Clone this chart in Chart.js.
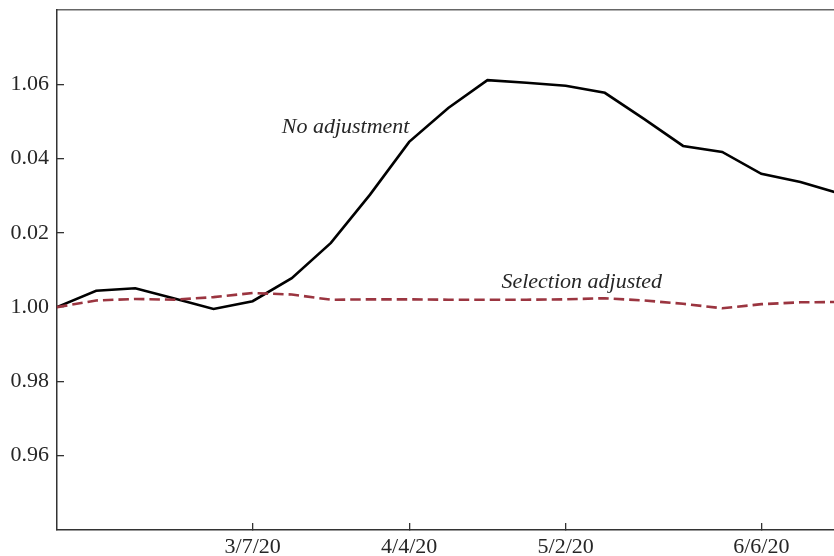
<!DOCTYPE html>
<html>
<head>
<meta charset="utf-8">
<title>Selection adjusted vs no adjustment</title>
<script src="https://cdn.jsdelivr.net/npm/chart.js@4.4.1/dist/chart.umd.min.js"></script>
<style>
    html, body { margin: 0; padding: 0; background: #ffffff; }
    #indiceChart { display: block; }
</style>
</head>
<body>
<canvas id="indiceChart" width="834" height="556"></canvas>
<script>
// ========== DATOS ==========

// Semanas (fecha de cada observación)
const semanas = ['2/1/20', '2/8/20', '2/15/20', '2/22/20', '2/29/20', '3/7/20', '3/14/20',
    '3/21/20', '3/28/20', '4/4/20', '4/11/20', '4/18/20', '4/25/20', '5/2/20', '5/9/20',
    '5/16/20', '5/23/20', '5/30/20', '6/6/20', '6/13/20', '6/20/20'];

// Serie sin ajuste
const sinAjuste = [1.000, 1.0044, 1.0051, 1.0023, 0.9995, 1.0016, 1.0078, 1.0173, 1.0303,
    1.0445, 1.0536, 1.0611, 1.0604, 1.0596, 1.0577, 1.0507, 1.0434, 1.0418, 1.0359,
    1.0337, 1.0306];

// Serie ajustada por selección
const ajustadaSeleccion = [1.000, 1.0018, 1.0022, 1.0020, 1.0027, 1.0038, 1.0034, 1.0020,
    1.0021, 1.0021, 1.0020, 1.0020, 1.0020, 1.0021, 1.0024, 1.0018, 1.0009, 0.9997,
    1.0008, 1.0013, 1.0014];

// Etiquetas de los ejes
const fechasEjeX = ['3/7/20', '4/4/20', '5/2/20', '6/6/20'];
const valoresEjeY = [0.96, 0.98, 1.00, 1.02, 1.04, 1.06];
const etiquetasEjeY = ['0.96', '0.98', '1.00', '0.02', '0.04', '1.06'];

// Fin del eje X (en fecha) y rango del eje Y
const fechaInicio = '2/1/20';
const fechaFin = '6/19/20';
const minY = 0.94;
const maxY = 1.08;

// ========== FUNCIONES AUXILIARES ==========

// Días transcurridos desde la fecha de inicio
function diasDesdeInicio(fecha) {
    const [m, d, a] = fecha.split('/').map(Number);
    const [m0, d0, a0] = fechaInicio.split('/').map(Number);
    return (Date.UTC(2000 + a, m - 1, d) - Date.UTC(2000 + a0, m0 - 1, d0)) / 86400000;
}

const fuente = "'Liberation Serif', 'DejaVu Serif', serif";
const colorTexto = '#262626';

// Etiquetas dentro del gráfico, en coordenadas de datos
const rotulos = [
    { texto: 'No adjustment', x: 40.2, y: 1.0468 },
    { texto: 'Selection adjusted', x: 79.5, y: 1.0051 }
];

const rotulosPlugin = {
    id: 'rotulos',
    afterDatasetsDraw(chart) {
        const { ctx, scales } = chart;
        ctx.save();
        ctx.font = 'italic 22px ' + fuente;
        ctx.fillStyle = colorTexto;
        ctx.textAlign = 'left';
        ctx.textBaseline = 'alphabetic';
        rotulos.forEach(r => {
            ctx.fillText(r.texto, scales.x.getPixelForValue(r.x), scales.y.getPixelForValue(r.y));
        });
        ctx.restore();
    }
};

// Quita el relleno que Chart.js reserva para las etiquetas de los extremos
function sinRelleno(scale) {
    scale.paddingTop = 0;
    scale.paddingBottom = 0;
    scale.paddingLeft = 0;
    scale.paddingRight = 0;
}

// ========== GRÁFICO ==========

const ctx = document.getElementById('indiceChart').getContext('2d');

const indiceChart = new Chart(ctx, {
    type: 'line',
    data: {
        datasets: [{
            label: 'Selection adjusted',
            data: semanas.map((s, i) => ({ x: diasDesdeInicio(s), y: ajustadaSeleccion[i] })),
            borderColor: '#9b3540',
            borderWidth: 2.6,
            borderDash: [10.5, 5],
            pointRadius: 0,
            tension: 0,
            fill: false
        }, {
            label: 'No adjustment',
            data: semanas.map((s, i) => ({ x: diasDesdeInicio(s), y: sinAjuste[i] })),
            borderColor: '#000000',
            borderWidth: 2.6,
            pointRadius: 0,
            tension: 0,
            fill: false
        }]
    },
    options: {
        responsive: false,
        animation: false,
        layout: { padding: 0 },
        plugins: {
            legend: { display: false },
            tooltip: { enabled: false }
        },
        scales: {
            x: {
                type: 'linear',
                position: 'bottom',
                min: 0,
                max: diasDesdeInicio(fechaFin),
                afterBuildTicks: scale => {
                    scale.ticks = fechasEjeX.map(f => ({ value: diasDesdeInicio(f) }));
                },
                afterFit: scale => { scale.height = 26; sinRelleno(scale); },
                ticks: {
                    padding: 11,
                    maxRotation: 0,
                    autoSkip: false,
                    color: colorTexto,
                    font: { family: fuente, size: 22 },
                    callback: (v) => fechasEjeX[fechasEjeX.map(diasDesdeInicio).indexOf(v)] || ''
                },
                grid: {
                    drawOnChartArea: false,
                    drawTicks: true,
                    tickLength: -7,
                    color: '#333333',
                    lineWidth: 1.3
                },
                border: { display: true, color: '#333333', width: 1.5 }
            },
            xTop: {
                type: 'linear',
                position: 'top',
                min: 0,
                max: diasDesdeInicio(fechaFin),
                afterFit: scale => { scale.height = 10; sinRelleno(scale); },
                ticks: { display: false },
                grid: { display: false },
                border: { display: true, color: '#666666', width: 1.5 }
            },
            y: {
                min: minY,
                max: maxY,
                afterBuildTicks: scale => {
                    scale.ticks = valoresEjeY.map(v => ({ value: v }));
                },
                afterFit: scale => { scale.width = 57; sinRelleno(scale); },
                ticks: {
                    padding: 15,
                    color: colorTexto,
                    font: { family: fuente, size: 22 },
                    callback: (v) => {
                        const i = valoresEjeY.findIndex(t => Math.abs(t - v) < 1e-9);
                        return i >= 0 ? etiquetasEjeY[i] : '';
                    }
                },
                grid: {
                    drawOnChartArea: false,
                    drawTicks: true,
                    tickLength: -7,
                    color: '#333333',
                    lineWidth: 1.3
                },
                border: { display: true, color: '#333333', width: 1.5 }
            }
        }
    },
    plugins: [rotulosPlugin]
});
</script>
</body>
</html>
